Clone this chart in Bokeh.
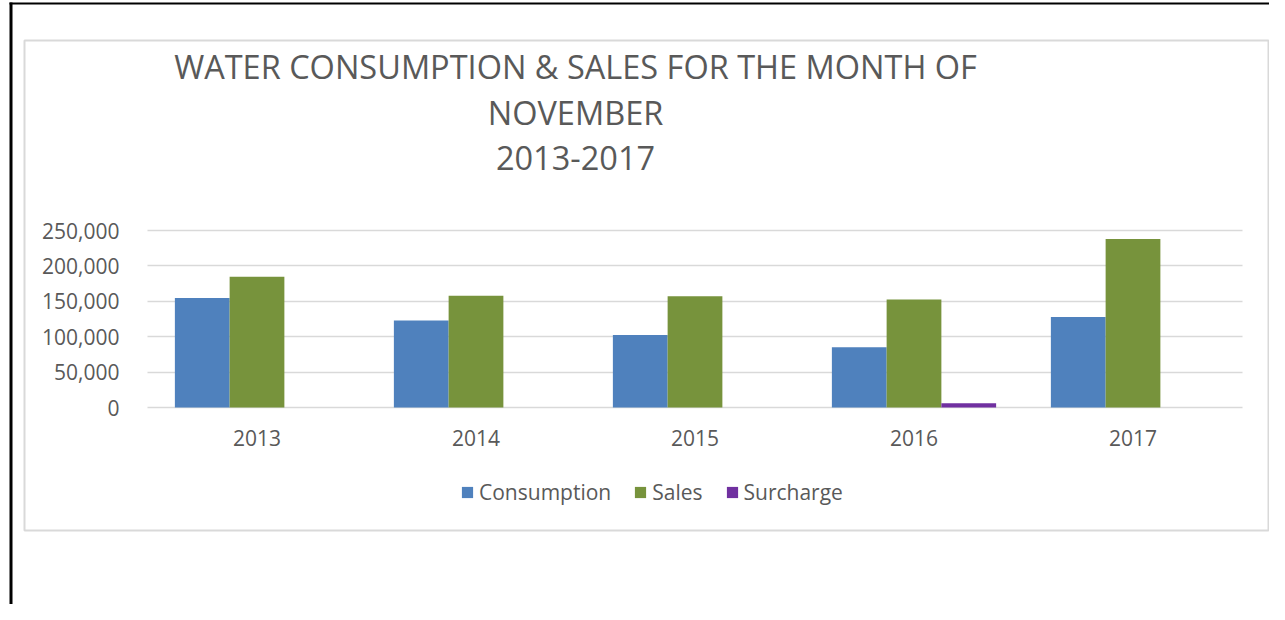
from bokeh.plotting import figure
from bokeh.models import (Range1d, FixedTicker, NumeralTickFormatter,
                          Label, Legend, LegendItem, BoxAnnotation)
from bokeh.transform import dodge
from bokeh.embed import file_html
from bokeh.resources import INLINE

# ---------------- data ----------------
years = [2013, 2014, 2015, 2016, 2017]
consumption = [154500, 123000, 102500, 85000, 128000]
sales = [184500, 158000, 157000, 152500, 238000]
surcharge = [0, 0, 0, 6000, 0]
y_ticks = [0, 50000, 100000, 150000, 200000, 250000]
title_lines = ["WATER CONSUMPTION & SALES FOR THE MONTH OF", "NOVEMBER", "2013-2017"]
series_names = ["Consumption", "Sales", "Surcharge"]
colors = ["#4F81BD", "#77933C", "#7030A0"]

# ---------------- layout (pixels) ----------------
W, H = 1269, 604
PX_LEFT, PX_RIGHT = 147, 1242      # plot area horizontal extent
PX_TOP, PX_ZERO = 230, 407         # y pixel of 250,000 and of 0
FONT = "Open Sans"
TXT = "#595959"

x_lo, x_hi = years[0] - 0.5, years[-1] + 0.5
ppx = (PX_RIGHT - PX_LEFT) / (x_hi - x_lo)
y_max = y_ticks[-1]
ppy = (PX_ZERO - PX_TOP) / y_max
x_range = Range1d(x_lo - PX_LEFT / ppx, x_hi + (W - PX_RIGHT) / ppx)
y_range = Range1d(-(H - PX_ZERO) / ppy, y_max + PX_TOP / ppy)

p = figure(width=W, height=H, x_range=x_range, y_range=y_range,
           output_backend="svg", toolbar_location=None, tools="",
           min_border=0, min_border_left=0, min_border_right=0,
           min_border_top=0, min_border_bottom=0)
p.outline_line_color = None
p.background_fill_color = "white"
p.border_fill_color = "white"

data = dict(year=years, consumption=consumption, sales=sales, surcharge=surcharge)
renderers = []
for key, off, col in zip(["consumption", "sales", "surcharge"], [-0.25, 0, 0.25], colors):
    r = p.vbar(x=dodge("year", off), top=key, width=0.25,
               source=data, fill_color=col, line_color=None)
    renderers.append(r)

# ---------------- axes ----------------
p.xaxis.fixed_location = 0
p.yaxis.fixed_location = x_lo
p.xaxis.ticker = FixedTicker(ticks=years)
p.yaxis.ticker = FixedTicker(ticks=y_ticks)
p.yaxis.formatter = NumeralTickFormatter(format="0,0")
for ax in (p.xaxis[0], p.yaxis[0]):
    ax.axis_line_color = None
    ax.major_tick_line_color = None
    ax.minor_tick_line_color = None
    ax.major_tick_in = 0
    ax.major_tick_out = 0
    ax.major_label_text_font = FONT
    ax.major_label_text_font_size = "21px"
    ax.major_label_text_color = TXT
p.yaxis.major_label_standoff = 28
p.xaxis.major_label_standoff = 22

p.xgrid.grid_line_color = None
yg = p.ygrid[0]
yg.ticker = FixedTicker(ticks=y_ticks)
yg.cross_bounds = (x_lo, x_hi)
yg.grid_line_color = "#D9D9D9"
yg.grid_line_width = 1.6

# ---------------- page frame & chart border ----------------
def box(left, right, top, bottom, **kw):
    return BoxAnnotation(left=left, right=right, top=H - top, bottom=H - bottom,
                         left_units="screen", right_units="screen",
                         top_units="screen", bottom_units="screen", **kw)

p.add_layout(box(24, 1268, 40, 530, fill_alpha=0, line_color="#D9D9D9",
                 line_alpha=1, line_width=2))
p.add_layout(box(9, 12, 2, H, fill_color="black", fill_alpha=1, line_color=None))
p.add_layout(box(9, W, 2, 4, fill_color="black", fill_alpha=1, line_color=None))

# ---------------- title ----------------
for txt, base in zip(title_lines, [66, 112, 157]):
    p.add_layout(Label(x=575, y=H - base, x_units="screen", y_units="screen", text=txt,
                       text_align="center", text_baseline="alphabetic",
                       text_font=FONT, text_font_size="32.5px", text_color=TXT))

# ---------------- legend ----------------
legend = Legend(items=[LegendItem(label=n, renderers=[r]) for n, r in zip(series_names, renderers)],
                orientation="horizontal", location=(460, H - 506),
                label_text_font=FONT, label_text_font_size="21px", label_text_color=TXT,
                glyph_width=14, glyph_height=14, label_standoff=5, spacing=22,
                padding=0, margin=0, border_line_color=None, background_fill_alpha=0)
p.add_layout(legend)

open("out.html", "w").write(file_html(p, INLINE))
